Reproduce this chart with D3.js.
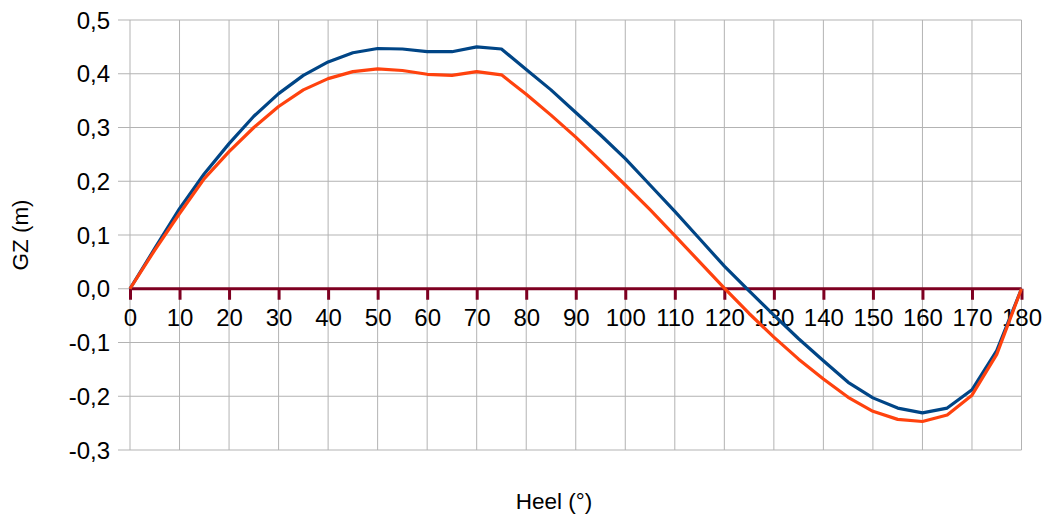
<!DOCTYPE html>
<html>
<head>
<meta charset="utf-8">
<script src="https://cdn.jsdelivr.net/npm/d3@7"></script>
<style>
  body { margin: 0; background: #fff; }
  text { font-family: "Liberation Sans", Arial, sans-serif; fill: #000; }
</style>
</head>
<body>
<div class="chart"></div>
<script>
// heel angles (deg) and GZ values (m)
var heel = [0, 5, 10, 15, 20, 25, 30, 35, 40, 45, 50, 55, 60, 65, 70, 75, 80, 85, 90,
            95, 100, 105, 110, 115, 120, 125, 130, 135, 140, 145, 150, 155, 160, 165, 170, 175, 180];

var gzBlue = [0, 0.075, 0.149, 0.214, 0.270, 0.321, 0.363, 0.397, 0.422, 0.439, 0.447, 0.446,
              0.441, 0.441, 0.450, 0.446, 0.408, 0.370, 0.328, 0.286, 0.242, 0.193, 0.144, 0.093,
              0.042, -0.004, -0.049, -0.093, -0.134, -0.174, -0.203, -0.222, -0.231, -0.222,
              -0.188, -0.115, 0];

var gzOrange = [0, 0.072, 0.140, 0.205, 0.255, 0.300, 0.339, 0.370, 0.391, 0.404, 0.409, 0.406,
                0.399, 0.397, 0.404, 0.398, 0.362, 0.323, 0.282, 0.238, 0.193, 0.147, 0.099, 0.050,
                0.001, -0.046, -0.090, -0.131, -0.168, -0.202, -0.228, -0.243, -0.247, -0.235,
                -0.198, -0.122, 0];

var xTicks = [0, 10, 20, 30, 40, 50, 60, 70, 80, 90, 100, 110, 120, 130, 140, 150, 160, 170, 180];
var yTicks = [-0.3, -0.2, -0.1, 0, 0.1, 0.2, 0.3, 0.4, 0.5];

var width = 1051, height = 523;
var plot = {left: 130, right: 1021.5, top: 20, bottom: 450};

var locale = d3.formatLocale({decimal: ",", thousands: ".", grouping: [3], currency: ["", ""], minus: "-"});
var fmt = locale.format(".1f");

var x = d3.scaleLinear().domain([0, 180]).range([plot.left, plot.right]);
var y = d3.scaleLinear().domain([-0.3, 0.5]).range([plot.bottom, plot.top]);

var svg = d3.select("div.chart")
  .append("svg")
    .attr("width", width)
    .attr("height", height);

// vertical grid
svg.append("g")
  .selectAll("line")
    .data(xTicks)
  .enter().append("line")
    .attr("x1", function(d) { return x(d); })
    .attr("x2", function(d) { return x(d); })
    .attr("y1", plot.top)
    .attr("y2", plot.bottom)
    .style("stroke", "#b3b3b3")
    .style("stroke-width", 1);

// horizontal grid, extended a bit to the left as tick marks
svg.append("g")
  .selectAll("line")
    .data(yTicks)
  .enter().append("line")
    .attr("x1", plot.left - 12)
    .attr("x2", plot.right)
    .attr("y1", function(d) { return y(d); })
    .attr("y2", function(d) { return y(d); })
    .style("stroke", "#b3b3b3")
    .style("stroke-width", 1);

// y tick labels
svg.append("g")
  .selectAll("text")
    .data(yTicks)
  .enter().append("text")
    .attr("x", 110)
    .attr("y", function(d) { return y(d); })
    .attr("dy", "0.36em")
    .attr("text-anchor", "end")
    .style("font-size", "24px")
    .text(function(d) { return fmt(d); });

// x axis at GZ = 0
var xAxis = d3.axisBottom(x)
  .tickValues(xTicks)
  .tickSize(11)
  .tickPadding(9)
  .tickFormat(d3.format("d"));

var gx = svg.append("g")
    .attr("transform", "translate(0," + y(0) + ")")
    .call(xAxis);

gx.select(".domain")
    .attr("d", "M" + plot.left + ",0H" + plot.right)
    .style("stroke", "#7e0021")
    .style("stroke-width", 3);
gx.selectAll(".tick line")
    .style("stroke", "#7e0021")
    .style("stroke-width", 3);
gx.selectAll(".tick text")
    .style("font-size", "24px")
    .style("font-family", "'Liberation Sans', Arial, sans-serif")
    .style("fill", "#000");

// series
var line = d3.line()
  .x(function(d, i) { return x(heel[i]); })
  .y(function(d) { return y(d); });

svg.append("path")
    .datum(gzBlue)
    .attr("d", line)
    .style("fill", "none")
    .style("stroke", "#004586")
    .style("stroke-width", 3.2)
    .style("stroke-linejoin", "round");

svg.append("path")
    .datum(gzOrange)
    .attr("d", line)
    .style("fill", "none")
    .style("stroke", "#ff420e")
    .style("stroke-width", 3.2)
    .style("stroke-linejoin", "round");

// axis titles
svg.append("text")
    .attr("x", 554)
    .attr("y", 509)
    .attr("text-anchor", "middle")
    .style("font-size", "22.5px")
    .text("Heel (°)");

svg.append("text")
    .attr("transform", "translate(28,235) rotate(-90)")
    .attr("text-anchor", "middle")
    .style("font-size", "22.5px")
    .text("GZ (m)");
</script>
</body>
</html>
